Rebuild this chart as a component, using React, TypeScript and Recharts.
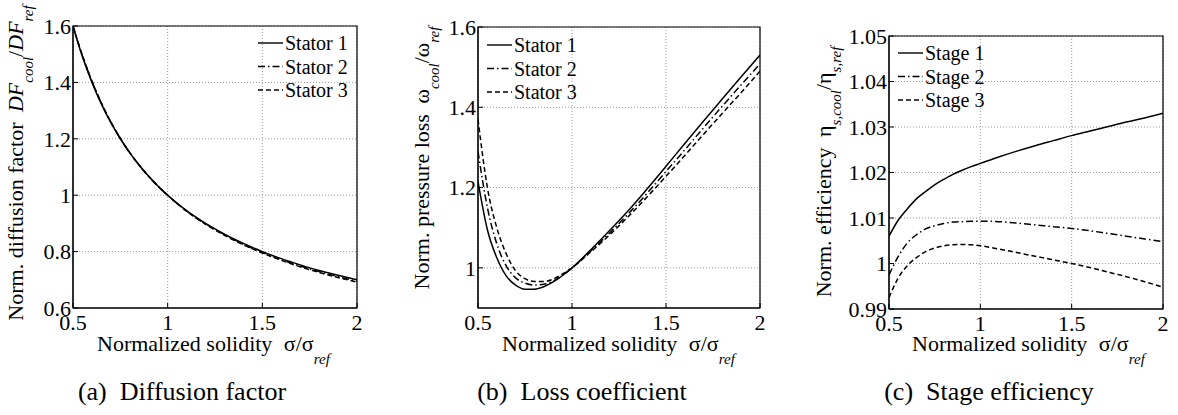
import React from 'react';
import { LineChart, Line, XAxis, YAxis, CartesianGrid, ReferenceArea } from 'recharts';

const FONT = "'Liberation Serif', 'DejaVu Serif', 'Times New Roman', serif";

// shared x grid (normalized solidity)
const solidity = [0.5, 0.55, 0.6, 0.65, 0.7, 0.75, 0.8, 0.85, 0.9, 0.95, 1.0, 1.1, 1.2, 1.3, 1.4, 1.5, 1.6, 1.7, 1.8, 1.9, 2.0];
const xTicks = [0.5, 1, 1.5, 2];

// (a) diffusion factor
const dfStator1 = [1.6, 1.491, 1.4, 1.323, 1.257, 1.2, 1.15, 1.106, 1.067, 1.032, 1.0, 0.945, 0.9, 0.862, 0.829, 0.8, 0.775, 0.753, 0.733, 0.716, 0.7];
const dfStator2 = [1.6, 1.494, 1.404, 1.326, 1.259, 1.201, 1.15, 1.106, 1.066, 1.031, 1.0, 0.944, 0.898, 0.86, 0.826, 0.797, 0.771, 0.749, 0.729, 0.711, 0.695];
const dfStator3 = [1.598, 1.495, 1.405, 1.327, 1.26, 1.202, 1.151, 1.106, 1.066, 1.031, 1.0, 0.943, 0.897, 0.858, 0.824, 0.795, 0.769, 0.746, 0.726, 0.708, 0.692];
const dfTicks = [0.6, 0.8, 1, 1.2, 1.4, 1.6];

// (b) loss coefficient
const lossStator1 = [1.215, 1.095, 1.025, 0.98, 0.957, 0.947, 0.947, 0.953, 0.965, 0.981, 1.0, 1.045, 1.093, 1.143, 1.197, 1.253, 1.31, 1.366, 1.421, 1.476, 1.53];
const lossStator2 = [1.29, 1.15, 1.06, 1.005, 0.975, 0.962, 0.957, 0.959, 0.967, 0.982, 1.0, 1.042, 1.087, 1.135, 1.186, 1.24, 1.294, 1.349, 1.403, 1.456, 1.508];
const lossStator3 = [1.37, 1.2, 1.1, 1.035, 0.993, 0.973, 0.966, 0.966, 0.972, 0.985, 1.0, 1.04, 1.082, 1.128, 1.177, 1.228, 1.28, 1.333, 1.385, 1.437, 1.49];
const lossTicks = [1, 1.2, 1.4, 1.6];

// (c) stage efficiency
const effStage1 = [1.006, 1.0095, 1.012, 1.0142, 1.0158, 1.0173, 1.0185, 1.0196, 1.0205, 1.0213, 1.022, 1.0234, 1.0247, 1.0259, 1.027, 1.0281, 1.0291, 1.0301, 1.0311, 1.032, 1.033];
const effStage2 = [0.9975, 1.0015, 1.0045, 1.0063, 1.0076, 1.0083, 1.0088, 1.0091, 1.0092, 1.0093, 1.0093, 1.0092, 1.0089, 1.0085, 1.0081, 1.0077, 1.0072, 1.0066, 1.006, 1.0054, 1.0048];
const effStage3 = [0.9925, 0.9968, 0.9995, 1.0013, 1.0026, 1.0034, 1.0039, 1.0041, 1.0042, 1.0041, 1.0039, 1.0032, 1.0024, 1.0016, 1.0008, 1.0, 0.9991, 0.9981, 0.9971, 0.996, 0.9948];
const effTicks = [0.99, 1, 1.01, 1.02, 1.03, 1.04, 1.05];

const dashes = [undefined, '7 3 1.5 3', '5 3'];

const toRows = (a: number[], b: number[], c: number[]) =>
  solidity.map((x, i) => ({ x, s1: a[i], s2: b[i], s3: c[i] }));

// subscript followed by a return to the baseline
const sub = (t: string, dy = 10) => [
  <tspan key="s" fontStyle="italic" fontSize={15} dy={dy}>{t}</tspan>,
];

interface PanelProps {
  left: number;
  width: number;
  margin: { top: number; right: number; bottom: number; left: number };
  yWidth: number;
  domain: [number, number];
  yTicks: number[];
  data: any[];
  names: string[];
  legend: { x: number; y: number };
  yLabel: { x: number; y: number; node: React.ReactNode };
  xLabelX: number;
  caption: { x: number; text: string };
}

const Panel: React.FC<PanelProps> = (p) => {
  const tickStyle = { fill: '#000', fontSize: 22, fontFamily: FONT, style: { fontFamily: FONT } };
  return (
    <div style={{ position: 'absolute', left: p.left, top: 0, width: p.width, height: 415, fontFamily: FONT }}>
      <LineChart width={p.width} height={415} data={p.data} margin={p.margin} style={{ fontFamily: FONT }}>
        <CartesianGrid stroke="#9a9a9a" strokeDasharray="1 2" />
        <XAxis type="number" dataKey="x" domain={[0.5, 2]} ticks={xTicks} allowDataOverflow height={30}
          tickSize={-5} tickMargin={11} tick={tickStyle} axisLine={{ stroke: '#000' }} tickLine={{ stroke: '#000' }} />
        <YAxis type="number" domain={p.domain} ticks={p.yTicks} allowDataOverflow width={p.yWidth}
          tickSize={-5} tickMargin={7} tick={tickStyle} axisLine={{ stroke: '#000' }} tickLine={{ stroke: '#000' }} />
        <ReferenceArea x1={0.5} x2={2} y1={p.domain[0]} y2={p.domain[1]} fill="none" fillOpacity={0} stroke="#000" strokeWidth={1.2} />
        {['s1', 's2', 's3'].map((k, i) => (
          <Line key={k} dataKey={k} name={p.names[i]} type="monotone" stroke="#000" strokeWidth={1.5}
            strokeDasharray={dashes[i]} dot={false} isAnimationActive={false} />
        ))}
      </LineChart>
      <svg width={p.width} height={415} style={{ position: 'absolute', left: 0, top: 0, pointerEvents: 'none', fontFamily: FONT }}
        fill="#000">
        {p.names.map((n, i) => {
          const y = p.legend.y + i * 23.5;
          return (
            <g key={n}>
              <line x1={p.legend.x} x2={p.legend.x + 25} y1={y} y2={y} stroke="#000" strokeWidth={1.4} strokeDasharray={dashes[i]} />
              <text x={p.legend.x + 27} y={y + 7} fontSize={20}>{n}</text>
            </g>
          );
        })}
        <text x={p.yLabel.x} y={p.yLabel.y} fontSize={22} textAnchor="middle"
          transform={`rotate(-90 ${p.yLabel.x} ${p.yLabel.y})`}>{p.yLabel.node}</text>
        <text x={p.xLabelX} y={351} fontSize={22}>
          Normalized solidity <tspan dx={6}>σ/σ</tspan>{sub('ref', 13)}
        </text>
        <text x={p.caption.x} y={400} fontSize={26} textAnchor="middle" style={{ whiteSpace: 'pre' }}>{p.caption.text}</text>
      </svg>
    </div>
  );
};

export default function App() {
  return (
    <div style={{ position: 'absolute', left: 0, top: 0, width: 1178, height: 415, background: '#fff' }}>
      <Panel left={0} width={390} margin={{ top: 26, right: 33, bottom: 77, left: 23 }} yWidth={50}
        domain={[0.6, 1.6]} yTicks={dfTicks} data={toRows(dfStator1, dfStator2, dfStator3)}
        names={['Stator 1', 'Stator 2', 'Stator 3']} legend={{ x: 258, y: 43 }}
        yLabel={{ x: 23, y: 163, node: <>Norm. diffusion factor <tspan dx={5} fontStyle="italic">DF</tspan>{sub('cool')}<tspan dy={-10}>/</tspan><tspan fontStyle="italic">DF</tspan>{sub('ref')}</> }}
        xLabelX={97} caption={{ x: 182, text: '(a)  Diffusion factor' }} />
      <Panel left={390} width={390} margin={{ top: 27, right: 20, bottom: 77, left: 38 }} yWidth={50}
        domain={[0.9, 1.6]} yTicks={lossTicks} data={toRows(lossStator1, lossStator2, lossStator3)}
        names={['Stator 1', 'Stator 2', 'Stator 3']} legend={{ x: 97, y: 45 }}
        yLabel={{ x: 39, y: 158, node: <>Norm. pressure loss <tspan dx={5}>ω</tspan>{sub('cool')}<tspan dy={-10}>/ω</tspan>{sub('ref')}</> }}
        xLabelX={112} caption={{ x: 192, text: '(b)  Loss coefficient' }} />
      <Panel left={780} width={398} margin={{ top: 36, right: 15, bottom: 76, left: 49 }} yWidth={60}
        domain={[0.99, 1.05]} yTicks={effTicks} data={toRows(effStage1, effStage2, effStage3)}
        names={['Stage 1', 'Stage 2', 'Stage 3']} legend={{ x: 118, y: 53 }}
        yLabel={{ x: 51, y: 172, node: <>Norm. efficiency <tspan dx={5}>η</tspan>{sub('s,cool')}<tspan dy={-10}>/η</tspan>{sub('s,ref')}</> }}
        xLabelX={132} caption={{ x: 209, text: '(c)  Stage efficiency' }} />
    </div>
  );
}
